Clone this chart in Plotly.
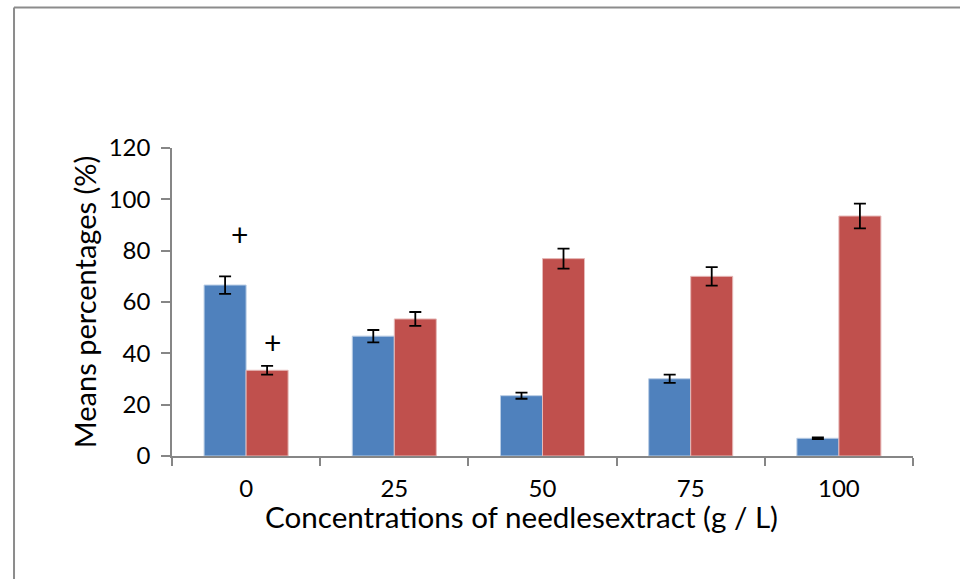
import plotly.graph_objects as go

categories = ["0", "25", "50", "75", "100"]
blue_values = [66.6, 46.7, 23.5, 30.1, 6.9]
blue_errors = [3.4, 2.4, 1.2, 1.6, 0.3]
red_values = [33.4, 53.4, 76.9, 70.0, 93.5]
red_errors = [1.7, 2.7, 3.9, 3.6, 4.8]
plus_x = [-0.045, 0.18]
plus_y = [86.4, 44.3]
y_ticks = [0, 20, 40, 60, 80, 100, 120]
x_title = "Concentrations of needlesextract (g / L)"
y_title = "Means percentages (%)"

FONT = "Lato"
BLUE = "#4F81BD"
RED = "#C0504D"
GRID = "#868686"

fig = go.Figure()
fig.add_trace(go.Bar(
    x=list(range(len(categories))), y=blue_values,
    marker=dict(color=BLUE, line=dict(color="#B9CDE5", width=1)),
    error_y=dict(type="data", array=blue_errors, color="black", thickness=1.8, width=6),
    showlegend=False,
))
fig.add_trace(go.Bar(
    x=list(range(len(categories))), y=red_values,
    marker=dict(color=RED, line=dict(color="#E6B9B8", width=1)),
    error_y=dict(type="data", array=red_errors, color="black", thickness=1.8, width=6),
    showlegend=False,
))

for px, py in zip(plus_x, plus_y):
    fig.add_annotation(x=px, y=py, xref="x", yref="y", text="+", showarrow=False,
                       font=dict(family=FONT, size=30, color="black"))

# x-axis title (slightly left of centre, as in the reference)
fig.add_annotation(x=0.471, y=-0.197, xref="paper", yref="paper", text=x_title,
                   showarrow=False, xanchor="center", yanchor="middle",
                   font=dict(family=FONT, size=29.6, color="black"))

# outer frame (partially visible)
fig.add_shape(type="line", xref="paper", yref="paper", x0=-0.2132, x1=-0.2132, y0=-0.5, y1=1.456,
              line=dict(color="#8C8C8C", width=2))
fig.add_shape(type="line", xref="paper", yref="paper", x0=-0.2132, x1=1.2, y0=1.456, y1=1.456,
              line=dict(color="#8C8C8C", width=2))

fig.update_layout(
    width=960, height=579,
    margin=dict(l=172, r=47, t=148, b=123),
    paper_bgcolor="white", plot_bgcolor="white",
    barmode="group", bargap=0.433, bargroupgap=0,
    font=dict(family=FONT, size=24, color="black"),
)
fig.update_xaxes(
    type="linear", range=[-0.5, 4.5],
    tickmode="array", tickvals=list(range(len(categories))), ticktext=categories,
    ticks="", showline=True, linecolor=GRID, linewidth=1.5,
    showgrid=False, zeroline=False,
    ticklabelstandoff=10,
    tickfont=dict(family=FONT, size=24, color="black"),
)
# boundary ticks drawn via minor ticks
fig.update_xaxes(minor=dict(tickmode="array", tickvals=[-0.5, 0.5, 1.5, 2.5, 3.5, 4.5],
                            ticks="outside", ticklen=8, tickcolor=GRID, tickwidth=1.5, showgrid=False))
fig.update_yaxes(
    range=[0, 120], tickmode="array", tickvals=y_ticks,
    ticks="outside", ticklen=9, tickcolor=GRID, tickwidth=1.5,
    showline=True, linecolor=GRID, linewidth=1.5,
    showgrid=False, zeroline=False,
    ticklabelstandoff=6,
    tickfont=dict(family=FONT, size=24, color="black"),
    title=dict(text=y_title, standoff=4,
               font=dict(family=FONT, size=29, color="black")),
)

fig.write_html("out.html")
